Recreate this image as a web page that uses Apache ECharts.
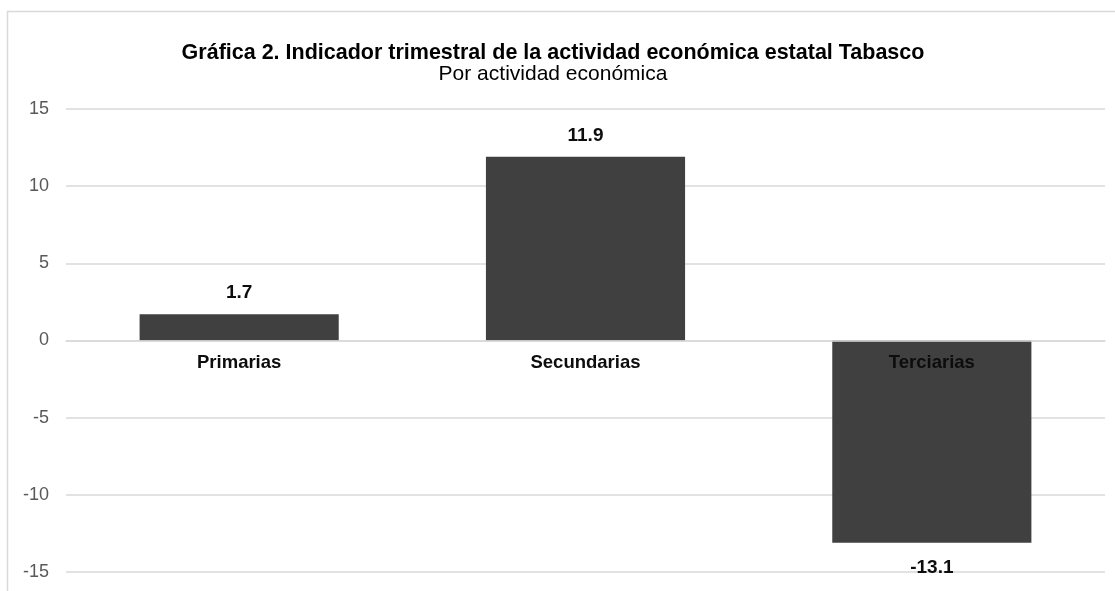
<!DOCTYPE html>
<html>
<head>
<meta charset="utf-8">
<script src="https://cdn.jsdelivr.net/npm/echarts@6/dist/echarts.min.js"></script>
<style>
html,body{margin:0;padding:0;background:#fff;}
#c{width:1115px;height:591px;}
</style>
</head>
<body>
<div id="c"></div>
<script>
var categories = ['Primarias', 'Secundarias', 'Terciarias'];
var values = [1.7, 11.9, -13.1];
var yTicks = { min: -15, max: 15, interval: 5 };
var titleText = 'Gráfica 2. Indicador trimestral de la actividad económica estatal Tabasco';
var subtitleText = 'Por actividad económica';

var chart = echarts.init(document.getElementById('c'), null, { renderer: 'canvas' });
var font = '"Liberation Sans", Arial, sans-serif';

var gridTop = 109, gridBottom = 19, H = 591;
var plotH = H - gridTop - gridBottom;
var zeroOffset = plotH * (0 - yTicks.min) / (yTicks.max - yTicks.min);

var data = values.map(function (v) {
  return {
    value: v,
    label: {
      position: v >= 0 ? 'top' : 'bottom',
      distance: v >= 0 ? 12 : 16
    }
  };
});

chart.setOption({
  animation: false,
  backgroundColor: '#fff',
  graphic: [{
    type: 'rect',
    shape: { x: 7.5, y: 11.5, width: 1200, height: 700 },
    style: { fill: 'none', stroke: '#d9d9d9', lineWidth: 1.5 },
    silent: true
  }],
  title: [{
    text: titleText,
    left: 553,
    top: 42.5,
    textAlign: 'center',
    padding: 0,
    textStyle: { fontFamily: font, fontSize: 21.5, lineHeight: 22, fontWeight: 'bold', color: '#000' }
  }, {
    text: subtitleText,
    left: 553,
    top: 64,
    textAlign: 'center',
    padding: 0,
    textStyle: { fontFamily: font, fontSize: 21, lineHeight: 21, fontWeight: 'normal', color: '#000' }
  }],
  grid: { left: 66, right: 10, top: gridTop, bottom: gridBottom, containLabel: false, outerBoundsMode: 'none' },
  xAxis: {
    type: 'category',
    data: categories,
    position: 'bottom',
    offset: -zeroOffset,
    z: 10,
    axisLine: { show: true, onZero: false, lineStyle: { color: '#d9d9d9', width: 1.5 } },
    axisTick: { show: false },
    splitLine: { show: false },
    axisLabel: { fontFamily: font, fontSize: 18.5, fontWeight: 'bold', color: '#0d0d0d', margin: 13 }
  },
  yAxis: {
    type: 'value',
    min: yTicks.min,
    max: yTicks.max,
    interval: yTicks.interval,
    axisLine: { show: false },
    axisTick: { show: false },
    splitLine: { lineStyle: { color: '#d9d9d9', width: 1.5 } },
    axisLabel: { fontFamily: font, fontSize: 18, color: '#595959', margin: 17 }
  },
  series: [{
    type: 'bar',
    data: data,
    barWidth: '57.5%',
    itemStyle: { color: '#404040' },
    label: {
      show: true,
      fontFamily: font,
      fontSize: 19,
      fontWeight: 'bold',
      color: '#0d0d0d',
      formatter: function (p) { return p.value.toFixed(1); }
    }
  }]
});
</script>
</body>
</html>
